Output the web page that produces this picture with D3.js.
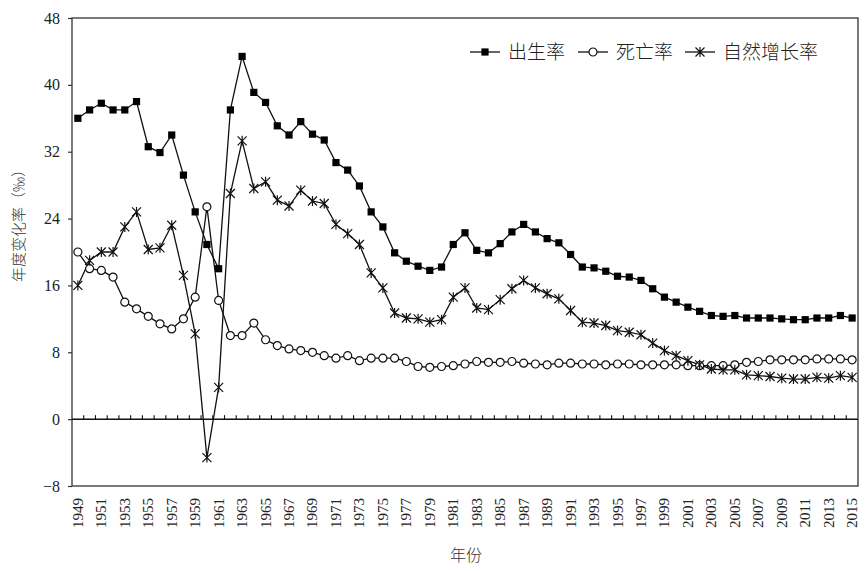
<!DOCTYPE html>
<html lang="zh">
  <head>
    <meta charset="utf-8">
    <title>birth_death_rates</title>
    <script src="https://d3js.org/d3.v7.min.js"></script>
    <style>
      body { margin: 0; background: #fff; }
    </style>
  </head>

  <body>
  <script>

// data: 1949-2015 (per mille)
var years = d3.range(1949, 2016);

var birthRate = [36.0, 37.0, 37.8, 37.0, 37.0, 38.0, 32.6, 31.9, 34.0, 29.2,
  24.8, 20.9, 18.0, 37.0, 43.4, 39.1, 37.9, 35.1, 34.0, 35.6,
  34.1, 33.4, 30.7, 29.8, 27.9, 24.8, 23.0, 19.9, 18.9, 18.3,
  17.8, 18.2, 20.9, 22.3, 20.2, 19.9, 21.0, 22.4, 23.3, 22.4,
  21.6, 21.1, 19.7, 18.2, 18.1, 17.7, 17.1, 17.0, 16.6, 15.6,
  14.6, 14.0, 13.4, 12.9, 12.4, 12.3, 12.4, 12.1, 12.1, 12.1,
  12.0, 11.9, 11.9, 12.1, 12.1, 12.4, 12.1];

var deathRate = [20.0, 18.0, 17.8, 17.0, 14.0, 13.2, 12.3, 11.4, 10.8, 12.0,
  14.6, 25.4, 14.2, 10.0, 10.0, 11.5, 9.5, 8.8, 8.4, 8.2,
  8.0, 7.6, 7.3, 7.6, 7.0, 7.3, 7.3, 7.3, 6.9, 6.3,
  6.2, 6.3, 6.4, 6.6, 6.9, 6.8, 6.8, 6.9, 6.7, 6.6,
  6.5, 6.7, 6.7, 6.6, 6.6, 6.5, 6.6, 6.6, 6.5, 6.5,
  6.5, 6.5, 6.4, 6.4, 6.4, 6.4, 6.5, 6.8, 6.9, 7.1,
  7.1, 7.1, 7.1, 7.2, 7.2, 7.2, 7.1];

var growthRate = [16.0, 19.0, 20.0, 20.0, 23.0, 24.8, 20.3, 20.5, 23.2, 17.2,
  10.2, -4.6, 3.8, 27.0, 33.3, 27.6, 28.4, 26.2, 25.5, 27.4,
  26.1, 25.8, 23.3, 22.2, 20.9, 17.5, 15.7, 12.7, 12.1, 12.0,
  11.6, 11.9, 14.6, 15.7, 13.3, 13.1, 14.3, 15.6, 16.6, 15.7,
  15.0, 14.4, 13.0, 11.6, 11.5, 11.2, 10.6, 10.4, 10.1, 9.1,
  8.2, 7.6, 7.0, 6.5, 6.0, 5.9, 5.9, 5.3, 5.2, 5.1,
  4.9, 4.8, 4.8, 5.0, 4.9, 5.2, 5.0];

var yTicks = [-8, 0, 8, 16, 24, 32, 40, 48];
var xLabels = years.filter(function(d, i) { return i % 2 === 0; });

var seriesNames = ["出生率", "死亡率", "自然增长率"];

var w = 865;
var h = 571;
var margin = {top: 18, right: 7, bottom: 85, left: 72};
var innerWidth = w - margin.left - margin.right;
var innerHeight = h - margin.top - margin.bottom;

var serif = "'Liberation Serif', 'DejaVu Serif', serif";
var cjk = "'Noto Sans CJK SC', sans-serif";

var svg = d3.select("body")
  .append("svg")
    .attr("width", w)
    .attr("height", h);

svg.append("rect")
    .attr("width", w)
    .attr("height", h)
    .attr("fill", "white");

var xScale = d3.scaleBand()
    .domain(years)
    .range([margin.left, margin.left + innerWidth]);

var yScale = d3.scaleLinear()
    .domain([-8, 48])
    .range([margin.top + innerHeight, margin.top]);

var xc = d => xScale(d) + xScale.bandwidth() / 2;

// frame
svg.append("rect")
    .attr("x", margin.left)
    .attr("y", margin.top)
    .attr("width", innerWidth)
    .attr("height", innerHeight)
    .attr("fill", "none")
    .attr("stroke", "#333")
    .attr("stroke-width", 1.3);

// y axis
var yAxis = d3.axisLeft(yScale)
    .tickValues(yTicks)
    .tickSize(4)
    .tickFormat(d => d < 0 ? "\u2212" + Math.abs(d) : d);

svg.append("g")
    .attr("class", "yAxis")
    .attr("transform", `translate(${margin.left}, 0)`)
    .call(yAxis)
    .call(a => a.select(".domain").remove())
    .call(a => a.selectAll("line").attr("stroke", "#333").attr("stroke-width", 1.2))
    .call(a => a.selectAll("text")
        .attr("x", -12)
        .attr("font-family", serif)
        .attr("font-size", 16)
        .attr("fill", "#222"));

// zero line with upward ticks at year boundaries
var zeroY = yScale(0);
svg.append("line")
    .attr("x1", margin.left)
    .attr("x2", margin.left + innerWidth)
    .attr("y1", zeroY)
    .attr("y2", zeroY)
    .attr("stroke", "#111")
    .attr("stroke-width", 1.5);

svg.append("g")
  .selectAll("line")
  .data(years.slice(1))
  .enter().append("line")
    .attr("x1", d => xScale(d))
    .attr("x2", d => xScale(d))
    .attr("y1", zeroY)
    .attr("y2", zeroY - 4)
    .attr("stroke", "#111")
    .attr("stroke-width", 1.1);

// x labels (rotated about their own anchor)
var labelY = margin.top + innerHeight + 12;
svg.append("g")
  .selectAll("text")
  .data(xLabels)
  .enter().append("text")
    .attr("x", d => xc(d) + 5)
    .attr("y", labelY)
    .attr("transform", d => `rotate(-90, ${xc(d) + 5}, ${labelY})`)
    .attr("text-anchor", "end")
    .attr("font-family", serif)
    .attr("font-size", 15)
    .attr("fill", "#222")
    .text(d => d);

// axis titles
svg.append("text")
    .attr("x", 24)
    .attr("y", 222)
    .attr("transform", "rotate(-90, 24, 222)")
    .attr("text-anchor", "middle")
    .attr("font-family", cjk)
    .attr("font-weight", 300)
    .attr("font-size", 15)
    .attr("fill", "#333")
    .text("年度变化率（‰）");

svg.append("text")
    .attr("x", 466)
    .attr("y", 561)
    .attr("text-anchor", "middle")
    .attr("font-family", cjk)
    .attr("font-weight", 300)
    .attr("font-size", 16)
    .attr("fill", "#333")
    .text("年份");

// lines
var line = d3.line()
    .x((d, i) => xc(years[i]))
    .y(d => yScale(d));

[birthRate, deathRate, growthRate].forEach(function(s) {
  svg.append("path")
      .datum(s)
      .attr("d", line)
      .attr("fill", "none")
      .attr("stroke", "#111")
      .attr("stroke-width", 1.3);
});

// markers
function drawMarker(sel, type) {
  if (type === 0) {
    sel.append("rect")
        .attr("x", -3.6).attr("y", -3.6)
        .attr("width", 7.2).attr("height", 7.2)
        .attr("fill", "#000");
  } else if (type === 1) {
    sel.append("circle")
        .attr("r", 4)
        .attr("fill", "white")
        .attr("stroke", "#111")
        .attr("stroke-width", 1.2);
  } else {
    sel.append("path")
        .attr("d", "M-4.5,-4.5L4.5,4.5M-4.5,4.5L4.5,-4.5M0,-5L0,5")
        .attr("fill", "none")
        .attr("stroke", "#111")
        .attr("stroke-width", 1.2);
  }
}

[birthRate, deathRate, growthRate].forEach(function(s, k) {
  var pts = svg.append("g")
    .selectAll("g")
    .data(s)
    .enter().append("g")
      .attr("transform", (d, i) => `translate(${xc(years[i])}, ${yScale(d)})`);
  pts.each(function() { drawMarker(d3.select(this), k); });
});

// legend
var legendX = [470, 578, 685];
var legend = svg.append("g");
seriesNames.forEach(function(name, k) {
  var lg = legend.append("g")
      .attr("transform", `translate(${legendX[k]}, ${52})`);
  lg.append("line")
      .attr("x1", 0).attr("x2", 30)
      .attr("stroke", "#111")
      .attr("stroke-width", 1.3);
  drawMarker(lg.append("g").attr("transform", "translate(15, 0)"), k);
  lg.append("text")
      .attr("x", 38)
      .attr("y", 7)
      .attr("font-family", cjk)
      .attr("font-weight", 300)
      .attr("font-size", 19)
      .attr("fill", "#222")
      .text(name);
});

    </script>

  </body>

</html>
